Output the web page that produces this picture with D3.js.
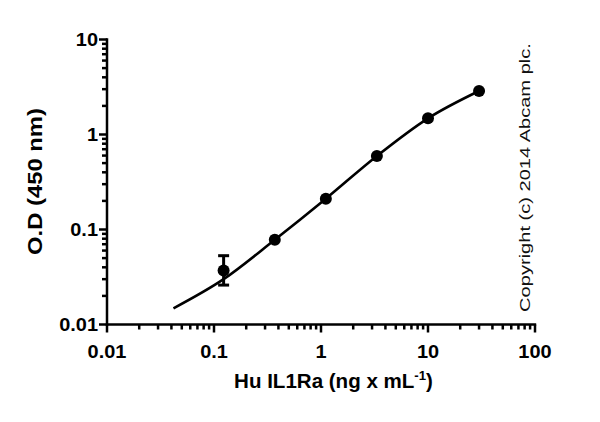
<!DOCTYPE html>
<html><head><meta charset="utf-8">
<script src="https://cdn.jsdelivr.net/npm/d3@7"></script>
<style>
html,body{margin:0;padding:0;background:#fff;}
svg{display:block;font-family:"Liberation Sans",Arial,sans-serif;}
</style></head>
<body>
<script>
// Data
const concentrations = [0.123, 0.37, 1.11, 3.33, 10, 30];
const odValues = [0.037, 0.078, 0.211, 0.594, 1.48, 2.87];
const errLow = [0.026, null, null, null, null, null];
const errHigh = [0.053, null, null, null, null, null];
// Fitted curve
const curveX = [0.0418, 0.123, 0.37, 1.11, 3.33, 10, 30];
const curveY = [0.0148, 0.030, 0.078, 0.211, 0.594, 1.48, 2.87];
const xTicks = [0.01, 0.1, 1, 10, 100];
const yTicks = [0.01, 0.1, 1, 10];
const xTickLabels = ["0.01", "0.1", "1", "10", "100"];
const yTickLabels = ["0.01", "0.1", "1", "10"];

const W = 600, H = 422;
const svg = d3.select("body").append("svg").attr("width", W).attr("height", H);

const x = d3.scaleLog().domain([0.01, 100]).range([107, 535]);
const y = d3.scaleLog().domain([0.01, 10]).range([324.5, 39.5]);

function minorTicks(domain) {
  const out = [];
  for (let e = Math.log10(domain[0]); e < Math.log10(domain[1]); e++) {
    for (let m = 2; m <= 9; m++) out.push(m * Math.pow(10, e));
  }
  return out;
}

// X axis
const gx = svg.append("g").attr("transform", "translate(0,324.5)");
gx.append("line").attr("x1", x(0.01) - 1.2).attr("x2", x(100) + 1.2)
  .attr("stroke", "#000").attr("stroke-width", 2.5);
gx.selectAll("line.minor").data(minorTicks(x.domain())).enter().append("line")
  .attr("class", "minor").attr("x1", d => x(d)).attr("x2", d => x(d))
  .attr("y1", 0).attr("y2", 5).attr("stroke", "#000").attr("stroke-width", 2.5);
gx.selectAll("line.major").data(xTicks).enter().append("line")
  .attr("class", "major").attr("x1", d => x(d)).attr("x2", d => x(d))
  .attr("y1", 0).attr("y2", 8).attr("stroke", "#000").attr("stroke-width", 2.5);
gx.selectAll("text").data(xTicks).enter().append("text")
  .attr("transform", d => `translate(${x(d)},33) scale(1.05,1)`).attr("text-anchor", "middle")
  .attr("font-size", 19).attr("font-weight", "bold")
  .text((d, i) => xTickLabels[i]);

// Y axis
const gy = svg.append("g").attr("transform", "translate(107,0)");
gy.append("line").attr("y1", y(10) - 1.2).attr("y2", y(0.01) + 1.2)
  .attr("stroke", "#000").attr("stroke-width", 2.5);
gy.selectAll("line.minor").data(minorTicks(y.domain())).enter().append("line")
  .attr("class", "minor").attr("y1", d => y(d)).attr("y2", d => y(d))
  .attr("x1", 0).attr("x2", -5).attr("stroke", "#000").attr("stroke-width", 2.5);
gy.selectAll("line.major").data(yTicks).enter().append("line")
  .attr("class", "major").attr("y1", d => y(d)).attr("y2", d => y(d))
  .attr("x1", 0).attr("x2", -8).attr("stroke", "#000").attr("stroke-width", 2.5);
gy.selectAll("text").data(yTicks).enter().append("text")
  .attr("transform", d => `translate(-9,${y(d)}) scale(1.05,1)`).attr("dy", "0.36em").attr("text-anchor", "end")
  .attr("font-size", 19).attr("font-weight", "bold")
  .text((d, i) => yTickLabels[i]);

// Fit a text element to a target length by horizontal scaling
function fitText(sel, cx, cy, rot, targetLen) {
  const len = sel.node().getBBox().width;
  const s = targetLen / len;
  sel.attr("transform", `translate(${cx},${cy}) rotate(${rot}) scale(${s},1)`);
}

// Axis titles
const yt = svg.append("text").attr("text-anchor", "middle").attr("font-size", 19.5).attr("font-weight", "bold")
  .text("O.D (450 nm)");
fitText(yt, 42, 181.5, -90, 147);

const xt = svg.append("text").attr("text-anchor", "middle").attr("font-size", 19.5).attr("font-weight", "bold");
xt.append("tspan").text("Hu IL1Ra (ng x mL");
xt.append("tspan").attr("font-size", 12.5).attr("dy", -8).text("-1");
xt.append("tspan").attr("dy", 8).text(")");
fitText(xt, 333.5, 388, 0, 199);

// Copyright
const ct = svg.append("text").attr("text-anchor", "middle").attr("font-size", 15.5).attr("fill", "#111")
  .text("Copyright (c) 2014 Abcam plc.");
fitText(ct, 530, 177.5, -90, 269);

// Fitted curve
const curvePts = curveX.map((v, i) => [v, curveY[i]]);
svg.append("path").datum(curvePts)
  .attr("d", d3.line().x(d => x(d[0])).y(d => y(d[1])).curve(d3.curveMonotoneX))
  .attr("fill", "none").attr("stroke", "#000").attr("stroke-width", 2.6);

// Error bars
const eb = concentrations.map((c, i) => ({c, lo: errLow[i], hi: errHigh[i]})).filter(d => d.lo != null);
const ge = svg.append("g").attr("stroke", "#000").attr("stroke-width", 3);
ge.selectAll("line.v").data(eb).enter().append("line")
  .attr("x1", d => x(d.c)).attr("x2", d => x(d.c)).attr("y1", d => y(d.lo)).attr("y2", d => y(d.hi));
ge.selectAll("line.t").data(eb).enter().append("line")
  .attr("x1", d => x(d.c) - 5.5).attr("x2", d => x(d.c) + 5.5).attr("y1", d => y(d.hi)).attr("y2", d => y(d.hi));
ge.selectAll("line.b").data(eb).enter().append("line")
  .attr("x1", d => x(d.c) - 5.5).attr("x2", d => x(d.c) + 5.5).attr("y1", d => y(d.lo)).attr("y2", d => y(d.lo));

// Points
svg.selectAll("circle").data(concentrations).enter().append("circle")
  .attr("cx", d => x(d)).attr("cy", (d, i) => y(odValues[i])).attr("r", 6).attr("fill", "#000");
</script>
</body></html>
